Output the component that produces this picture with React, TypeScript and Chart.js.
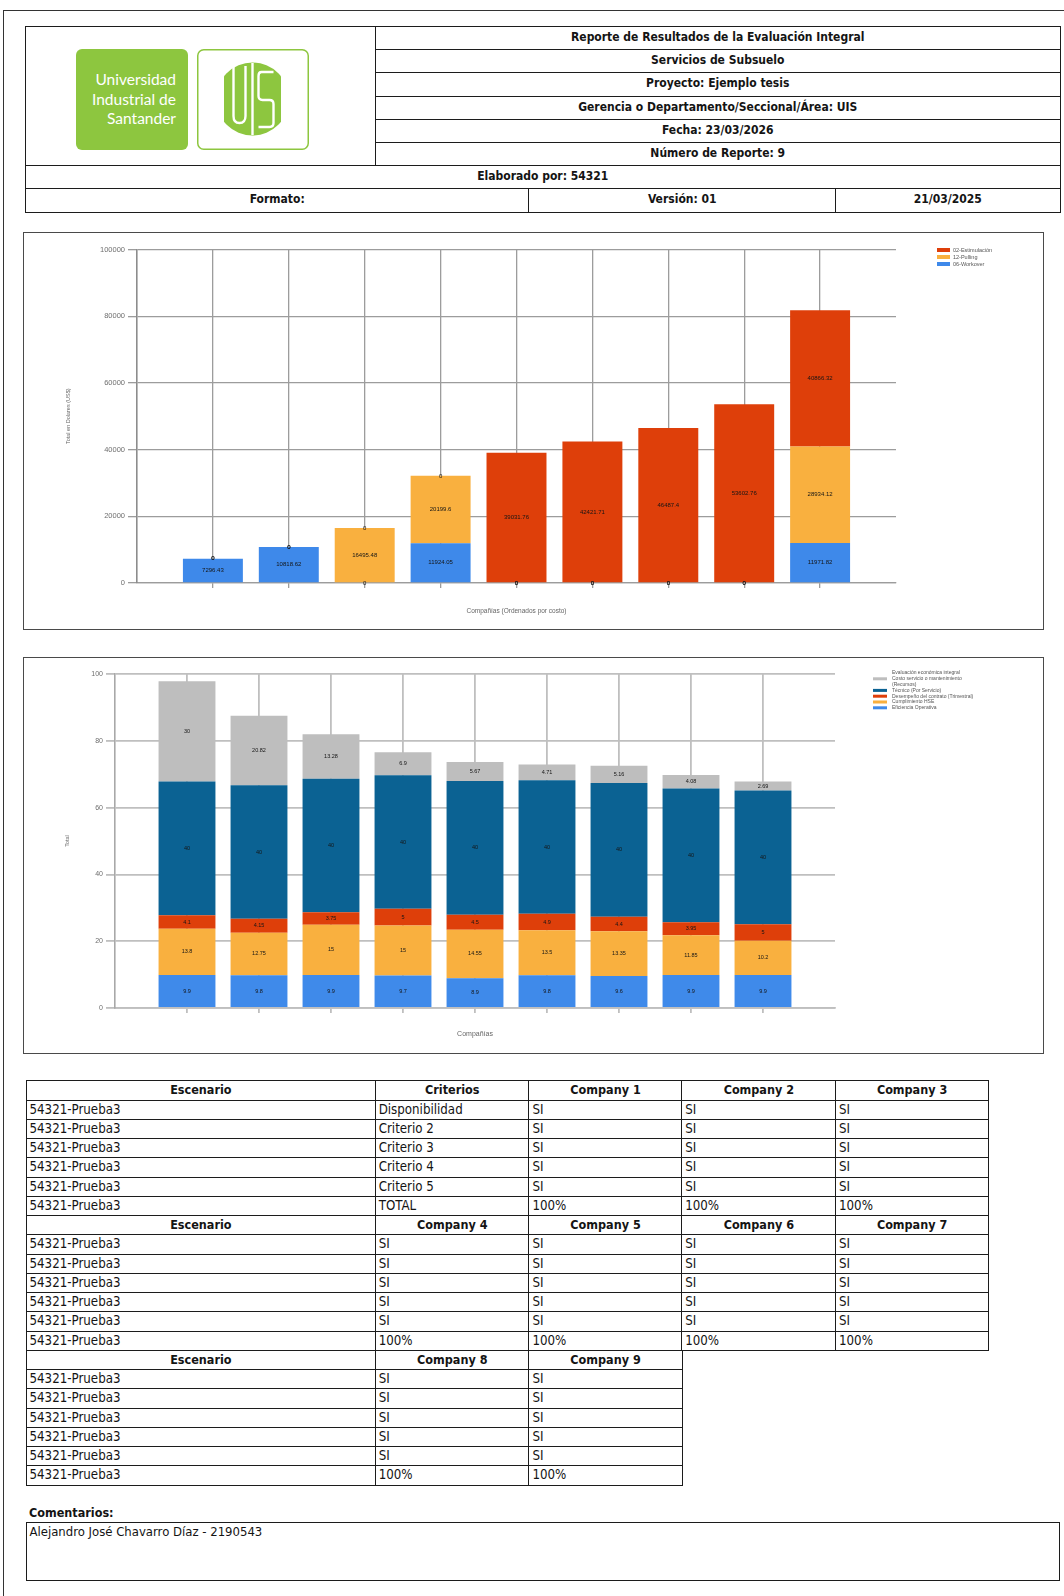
import React, { useEffect, useRef } from 'react';
import { Chart, registerables } from 'chart.js';

Chart.register(...registerables);

// ---------- Costo total por compañía (US$), ordenado por costo ----------
const costRank = [1, 2, 3, 4, 5, 6, 7, 8, 9];
const workoverCost = [7296.43, 10818.62, 0, 11924.05, 0, 0, 0, 0, 11971.82];
const pullingCost = [0, 0, 16495.48, 20199.6, 0, 0, 0, 0, 28934.12];
const stimulationCost = [0, 0, 0, 0, 39031.76, 42421.71, 46487.4, 53602.76, 40866.32];
const costSeriesLabels = ['06-Workover', '12-Pulling', '02-Estimulación'];
const costAxisMax = 100000;
const costAxisStep = 20000;

// ---------- Puntaje por criterio de evaluación ----------
const scoreRank = [1, 2, 3, 4, 5, 6, 7, 8, 9];
const efficiencyScore = [9.9, 9.8, 9.9, 9.7, 8.9, 9.8, 9.6, 9.9, 9.9];
const hseScore = [13.8, 12.75, 15, 15, 14.55, 13.5, 13.35, 11.85, 10.2];
const contractScore = [4.1, 4.15, 3.75, 5, 4.5, 4.9, 4.4, 3.95, 5];
const technicalScore = [40, 40, 40, 40, 40, 40, 40, 40, 40];
const economicScore = [30, 20.82, 13.28, 6.9, 5.67, 4.71, 5.16, 4.08, 2.69];
const scoreSeriesLabels = [
  'Eficiencia Operativa',
  'Cumplimiento HSE',
  'Desempeño del contrato (Trimestral)',
  'Técnico (Por Servicio)',
  'Evaluación económica integral\nCosto servicio o mantenimiento\n(Recursos)',
];
const scoreAxisMax = 100;
const scoreAxisStep = 20;

// ---------- Encabezado ----------
const headerLines = [
  'Reporte de Resultados de la Evaluación Integral',
  'Servicios de Subsuelo',
  'Proyecto: Ejemplo tesis',
  'Gerencia o Departamento/Seccional/Área: UIS',
  'Fecha: 23/03/2026',
  'Número de Reporte: 9',
];
const preparedBy = 'Elaborado por: 54321';
const formatRow = ['Formato:', 'Versión: 01', '21/03/2025'];

// ---------- Tabla de criterios ----------
const scenarioName = '54321-Prueba3';
const criteriaNames = ['Disponibilidad', 'Criterio 2', 'Criterio 3', 'Criterio 4', 'Criterio 5', 'TOTAL'];
const companyNames = ['Company 1', 'Company 2', 'Company 3', 'Company 4', 'Company 5', 'Company 6', 'Company 7', 'Company 8', 'Company 9'];
const companyCriteria = [
  ['SI', 'SI', 'SI', 'SI', 'SI'],
  ['SI', 'SI', 'SI', 'SI', 'SI'],
  ['SI', 'SI', 'SI', 'SI', 'SI'],
  ['SI', 'SI', 'SI', 'SI', 'SI'],
  ['SI', 'SI', 'SI', 'SI', 'SI'],
  ['SI', 'SI', 'SI', 'SI', 'SI'],
  ['SI', 'SI', 'SI', 'SI', 'SI'],
  ['SI', 'SI', 'SI', 'SI', 'SI'],
  ['SI', 'SI', 'SI', 'SI', 'SI'],
];
const companyTotals = ['100%', '100%', '100%', '100%', '100%', '100%', '100%', '100%', '100%'];
const comments = 'Alejandro José Chavarro Díaz - 2190543';

const COND = '"Liberation Sans Narrow", "Arial Narrow", "DejaVu Sans Condensed", sans-serif';
const CHART_FONT = '"Liberation Sans", Arial, sans-serif';

// Writes each segment's value at the middle of its bar piece.
const segmentLabels = {
  id: 'segmentLabels',
  afterDatasetsDraw(chart: any, _args: any, opts: any) {
    const { ctx } = chart;
    ctx.save();
    ctx.font = `${opts.size}px ${CHART_FONT}`;
    ctx.fillStyle = opts.color;
    ctx.textAlign = 'center';
    ctx.textBaseline = 'middle';
    chart.data.datasets.forEach((ds: any, di: number) => {
      const meta = chart.getDatasetMeta(di);
      meta.data.forEach((bar: any, i: number) => {
        const { x, y, base } = bar.getProps(['x', 'y', 'base'], true);
        ctx.fillText(String(ds.data[i].y), x, (y + base) / 2);
      });
    });
    ctx.restore();
  },
};

// Compact legend placed to the right of the plot area, top series first.
const sideLegend = {
  id: 'sideLegend',
  afterDraw(chart: any, _args: any, opts: any) {
    const { ctx, chartArea } = chart;
    ctx.save();
    ctx.font = `${opts.size}px ${CHART_FONT}`;
    ctx.textBaseline = 'middle';
    ctx.textAlign = 'left';
    const x = chartArea.right + opts.dx;
    let y = chartArea.top + opts.dy;
    const items = chart.data.datasets.slice().reverse();
    items.forEach((ds: any) => {
      const lines = String(ds.label).split('\n');
      const mid = y + ((lines.length - 1) * opts.rowH) / 2;
      ctx.fillStyle = ds.backgroundColor;
      ctx.fillRect(x, mid - opts.boxH / 2, opts.boxW, opts.boxH);
      ctx.fillStyle = opts.color;
      lines.forEach((line: string, k: number) => {
        ctx.fillText(line, x + opts.textDx, y + k * opts.rowH);
      });
      y += lines.length * opts.rowH;
    });
    ctx.restore();
  },
};

const toPoints = (xs: number[], ys: number[]) => xs.map((x, i) => ({ x, y: ys[i] }));

function buildOptions(p: any) {
  const hideEdges = (ctx: any) =>
    ctx.tick && (ctx.tick.value === 0 || ctx.tick.value === 10) ? 'rgba(0,0,0,0)' : p.gridColor;
  return {
    responsive: false,
    maintainAspectRatio: false,
    animation: false,
    layout: { padding: { left: 0, top: p.padTop, right: p.padRight, bottom: 0 } },
    plugins: {
      legend: { display: false },
      tooltip: { enabled: false },
      segmentLabels: { size: p.labelSize, color: '#151515' },
      sideLegend: p.legend,
    },
    scales: {
      x: {
        type: 'linear',
        stacked: true,
        min: 0,
        max: 10,
        offset: false,
        afterFit: (s: any) => { s.height = p.xHeight; },
        ticks: { stepSize: 1, display: false },
        grid: { offset: false, color: hideEdges, tickColor: hideEdges, lineWidth: p.gridWidth, tickLength: 5 },
        border: { display: true, color: p.gridColor, width: p.gridWidth },
        title: {
          display: true,
          text: p.xTitle,
          color: '#666',
          font: { family: CHART_FONT, size: p.xTitleSize },
          padding: { top: 0, bottom: p.xTitlePad },
        },
      },
      y: {
        stacked: true,
        min: 0,
        max: p.yMax,
        afterFit: (s: any) => { s.width = p.yWidth; },
        ticks: {
          stepSize: p.yStep,
          color: '#6e6e6e',
          padding: 3,
          font: { family: CHART_FONT, size: p.tickSize },
          callback: (v: any) => String(v),
        },
        grid: { color: p.gridColor, lineWidth: p.gridWidth, tickLength: 9 },
        border: { display: true, color: p.axisColor, width: 1.6 },
        title: {
          display: true,
          text: p.yTitle,
          color: '#666',
          font: { family: CHART_FONT, size: 5.5 },
          padding: { top: p.yTitlePad, bottom: 0 },
        },
      },
    },
    datasets: { bar: { categoryPercentage: 1, barPercentage: 0.79, borderWidth: 0 } },
  };
}

function CostChart() {
  const ref = useRef<HTMLCanvasElement | null>(null);
  useEffect(() => {
    const chart = new Chart(ref.current as HTMLCanvasElement, {
      type: 'bar',
      data: {
        datasets: [
          { label: costSeriesLabels[0], data: toPoints(costRank, workoverCost), backgroundColor: '#3E89EA' },
          { label: costSeriesLabels[1], data: toPoints(costRank, pullingCost), backgroundColor: '#F9B03F' },
          { label: costSeriesLabels[2], data: toPoints(costRank, stimulationCost), backgroundColor: '#DE3F0A' },
        ],
      } as any,
      options: buildOptions({
        padTop: 15.5,
        padRight: 146,
        xHeight: 45,
        yWidth: 112,
        yMax: costAxisMax,
        yStep: costAxisStep,
        gridColor: '#9c9c9c',
        axisColor: '#8c8c8c',
        gridWidth: 1.3,
        labelSize: 6,
        tickSize: 7.5,
        xTitle: 'Compañías (Ordenados por costo)',
        xTitleSize: 6.5,
        xTitlePad: 13.1,
        yTitle: 'Total en Dolares (US$)',
        yTitlePad: 39.7,
        legend: { dx: 41, dy: 0.5, rowH: 7, boxW: 13, boxH: 4, textDx: 16, size: 5.5, color: '#555' },
      }) as any,
      plugins: [segmentLabels, sideLegend],
    });
    return () => chart.destroy();
  }, []);
  return <canvas ref={ref} width={1017} height={394} style={{ position: 'absolute', left: 25, top: 234 }} />;
}

function ScoreChart() {
  const ref = useRef<HTMLCanvasElement | null>(null);
  useEffect(() => {
    const chart = new Chart(ref.current as HTMLCanvasElement, {
      type: 'bar',
      data: {
        datasets: [
          { label: scoreSeriesLabels[0], data: toPoints(scoreRank, efficiencyScore), backgroundColor: '#3F8AEA' },
          { label: scoreSeriesLabels[1], data: toPoints(scoreRank, hseScore), backgroundColor: '#F9B03F' },
          { label: scoreSeriesLabels[2], data: toPoints(scoreRank, contractScore), backgroundColor: '#DE3F0A' },
          { label: scoreSeriesLabels[3], data: toPoints(scoreRank, technicalScore), backgroundColor: '#0B6293' },
          { label: scoreSeriesLabels[4], data: toPoints(scoreRank, economicScore), backgroundColor: '#BEBEBE' },
        ],
      } as any,
      options: buildOptions({
        padTop: 15,
        padRight: 207,
        xHeight: 44,
        yWidth: 90,
        yMax: scoreAxisMax,
        yStep: scoreAxisStep,
        gridColor: '#bfbfbf',
        axisColor: '#a8a8a8',
        gridWidth: 1.8,
        labelSize: 5.5,
        tickSize: 7,
        xTitle: 'Compañías',
        xTitleSize: 7,
        xTitlePad: 13.8,
        yTitle: 'Total',
        yTitlePad: 38.7,
        legend: { dx: 38, dy: -1, rowH: 5.8, boxW: 14, boxH: 3, textDx: 19, size: 5, color: '#555' },
      }) as any,
      plugins: [segmentLabels, sideLegend],
    });
    return () => chart.destroy();
  }, []);
  return <canvas ref={ref} width={1017} height={393} style={{ position: 'absolute', left: 25, top: 659 }} />;
}

type CellProps = {
  x: number; y: number; w: number; h: number; text?: string;
  bold?: boolean; align?: 'left' | 'center'; size?: number;
};

function Cell({ x, y, w, h, text, bold, align = 'left', size = 13.5 }: CellProps) {
  return (
    <div
      style={{
        position: 'absolute', left: x, top: y, width: w + 1.5, height: h + 1.5,
        boxSizing: 'border-box', border: '1.5px solid #1c1c1c', background: '#fff',
        fontFamily: COND, fontSize: size, fontWeight: bold ? 700 : 400, color: '#141414',
        textAlign: align, lineHeight: `${h - 1.5}px`, paddingLeft: align === 'left' ? 3 : 0,
        whiteSpace: 'nowrap', overflow: 'hidden',
      }}
    >
      {text}
    </div>
  );
}

function UisLogo() {
  return (
    <svg width={240} height={106} style={{ position: 'absolute', left: 72, top: 46 }}>
      <rect x={4} y={3} width={112} height={101} rx={6} fill="#8DC63F" />
      <text fontFamily="Lato, 'Open Sans', sans-serif" fontSize={15.5} fill="#fff" textAnchor="end">
        <tspan x={104} y={39}>Universidad</tspan>
        <tspan x={104} y={59}>Industrial de</tspan>
        <tspan x={104} y={78}>Santander</tspan>
      </text>
      <rect x={125.75} y={3.75} width={110.5} height={99.5} rx={6} fill="#fff" stroke="#8DC63F" strokeWidth={1.5} />
      <g transform="translate(180.5,53)">
        <clipPath id="uisShape">
          <rect x={-28.5} y={-37} width={57} height={74} />
        </clipPath>
        <circle r={36.5} fill="#8DC63F" clipPath="url(#uisShape)" />
        <g fill="none" stroke="#fff" strokeWidth={2.4} strokeLinejoin="round">
          <path d="M -19 -33 V 17 Q -19 24 -13 24 Q -7 24 -7 17 V -33" />
          <path d="M 0 -36 V 36" />
          <path d="M 21 -27 H 9 Q 6 -27 6 -23 V -3 Q 6 1 10 1 H 17 Q 21 1 21 5 V 24 Q 21 28 17 28 H 6" />
        </g>
      </g>
    </svg>
  );
}

function Header() {
  const left = 25;
  const right = 1059;
  const split = 375;
  const top = 26;
  const rowH = 23.17;
  const cells: React.ReactNode[] = [];
  cells.push(<Cell key="logo" x={left} y={top} w={split - left} h={rowH * 6} />);
  headerLines.forEach((t, i) => {
    cells.push(<Cell key={'h' + i} x={split} y={top + i * rowH} w={right - split} h={rowH} text={t} bold align="center" size={12} />);
  });
  const yPrep = top + 6 * rowH;
  cells.push(<Cell key="prep" x={left} y={yPrep} w={right - left} h={23} text={preparedBy} bold align="center" size={12} />);
  const yFmt = yPrep + 23;
  const fmtEdges = [left, 528, 835, right];
  formatRow.forEach((t, i) => {
    cells.push(
      <Cell key={'f' + i} x={fmtEdges[i]} y={yFmt} w={fmtEdges[i + 1] - fmtEdges[i]} h={23} text={t} bold align="center" size={12} />
    );
  });
  return (
    <>
      {cells}
      <UisLogo />
    </>
  );
}

function CriteriaTable() {
  const colEdges = [25.5, 374.7, 528.4, 681.2, 835, 987.7];
  const top = 1080.3;
  const rowH = 19.25;
  const cells: React.ReactNode[] = [];
  const blocks = [
    { companies: [0, 1, 2], withCriteria: true },
    { companies: [3, 4, 5, 6], withCriteria: false },
    { companies: [7, 8], withCriteria: false },
  ];
  let row = 0;
  blocks.forEach((b, bi) => {
    const headers = ['Escenario', ...(b.withCriteria ? ['Criterios'] : []), ...b.companies.map((c) => companyNames[c])];
    headers.forEach((h, ci) => {
      cells.push(
        <Cell key={`b${bi}h${ci}`} x={colEdges[ci]} y={top + row * rowH} w={colEdges[ci + 1] - colEdges[ci]} h={rowH} text={h} bold align="center" size={12.5} />
      );
    });
    row += 1;
    criteriaNames.forEach((crit, ri) => {
      const isTotal = ri === criteriaNames.length - 1;
      const values = [
        scenarioName,
        ...(b.withCriteria ? [crit] : []),
        ...b.companies.map((c) => (isTotal ? companyTotals[c] : companyCriteria[c][ri])),
      ];
      values.forEach((v, ci) => {
        cells.push(
          <Cell key={`b${bi}r${ri}c${ci}`} x={colEdges[ci]} y={top + row * rowH} w={colEdges[ci + 1] - colEdges[ci]} h={rowH} text={v} size={13.2} />
        );
      });
      row += 1;
    });
  });
  return <>{cells}</>;
}

function Frame({ x, y, w, h }: { x: number; y: number; w: number; h: number }) {
  return (
    <div
      style={{
        position: 'absolute', left: x, top: y, width: w, height: h,
        boxSizing: 'border-box', border: '1.5px solid #4a4a4a',
      }}
    />
  );
}

export default function App() {
  return (
    <div style={{ position: 'absolute', left: 0, top: 0, width: 1064, height: 1596, background: '#fff', overflow: 'hidden' }}>
      <div style={{ position: 'absolute', left: 3, top: 10, width: 1070, height: 1600, borderTop: '1.5px solid #333', borderLeft: '1.5px solid #333' }} />
      <Header />
      <Frame x={23} y={232} w={1021} h={398} />
      <CostChart />
      <Frame x={23} y={657} w={1021} h={397} />
      <ScoreChart />
      <CriteriaTable />
      <div style={{ position: 'absolute', left: 29, top: 1505, fontFamily: COND, fontSize: 12.5, fontWeight: 700, color: '#141414' }}>
        Comentarios:
      </div>
      <div
        style={{
          position: 'absolute', left: 25.5, top: 1522, width: 1034, height: 59, boxSizing: 'border-box',
          border: '1.5px solid #1c1c1c', fontFamily: COND, fontSize: 13, color: '#141414', padding: '1px 3px',
        }}
      >
        {comments}
      </div>
    </div>
  );
}
